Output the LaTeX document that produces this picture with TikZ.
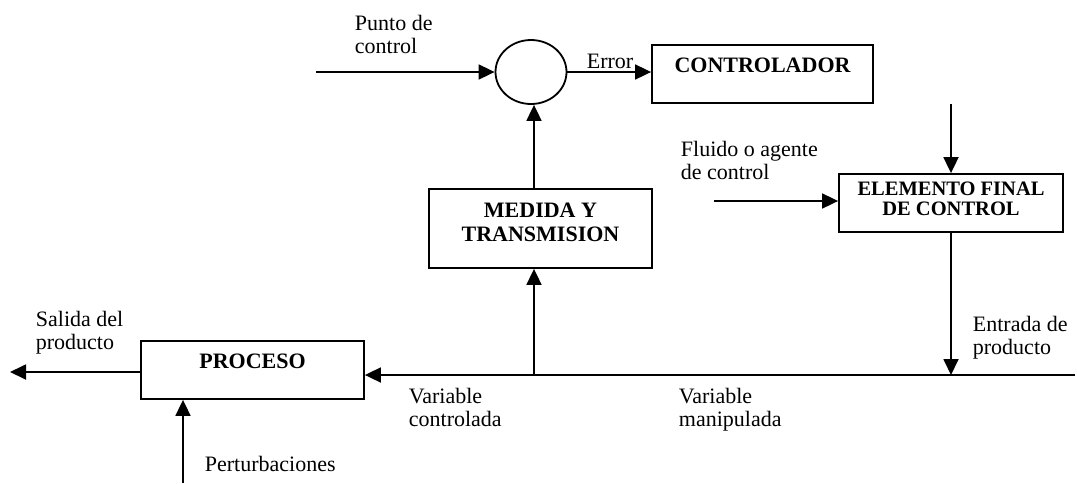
\documentclass[tikz,border=0pt]{standalone}
\usepackage{fontspec}
\setmainfont{Liberation Serif}
\usetikzlibrary{arrows.meta,shapes.geometric}
\begin{document}
\begin{tikzpicture}[x=1pt,y=-1pt,
  line width=1.8pt,
  flow/.style={-{Triangle[length=16pt,width=15pt]}},
  block/.style={draw, rectangle, inner sep=0pt, minimum height=58pt},
  lbl/.style={font=\fontsize{22}{23}\selectfont, align=left, inner sep=0pt, anchor=base west},
  ttl/.style={font=\fontsize{22}{24}\selectfont\bfseries, align=center, inner sep=0pt},
  ttls/.style={font=\fontsize{20.5}{20.5}\selectfont\bfseries, align=center, inner sep=0pt},
]
\useasboundingbox (0,0) rectangle (1077,483);

% summing junction and blocks
\node[draw, ellipse, minimum width=71pt, minimum height=64pt, inner sep=0pt] (sum) at (531,72) {};
\node[block, minimum width=221pt,
      label={[ttl, yshift=8.5pt]center:CONTROLADOR}] (ctrl) at (762.5,74) {};
\node[block, minimum width=224pt,
      label={[ttls, yshift=4pt]center:{ELEMENTO FINAL\\DE CONTROL}}] (elem) at (951,203) {};
\node[block, minimum width=223pt, minimum height=79pt,
      label={[ttl, yshift=6pt]center:{MEDIDA Y\\TRANSMISION}}] (meas) at (540.5,228.5) {};
\node[block, minimum width=223pt,
      label={[ttl, yshift=9pt]center:PROCESO}] (proc) at (252.5,370) {};

% free ends of the signal lines
\coordinate (setp) at (316,72);
\coordinate (fluid) at (714,201);
\coordinate (tap) at (534,375);
\coordinate (inlet) at (951,375);
\coordinate (feed) at (1075,375);
\coordinate (out) at (10,372);
\coordinate (dist) at (183,483);

% connectors
\draw[flow] (setp) -- (sum.west);
\draw[flow] (sum.east) -- (sum.east -| ctrl.west);
\draw[flow] (elem.north |- ctrl.south) -- (elem.north);
\draw[flow] (fluid) -- (fluid -| elem.west);
\draw[flow] (elem.south) -- (inlet);
\draw[flow] (feed) -- (feed -| proc.east);
\draw[flow] (tap) -- (tap |- meas.south);
\draw[flow] (tap |- meas.north) -- (tap |- sum.south);
\draw[flow] (out -| proc.west) -- (out);
\draw[flow] (dist) -- (dist |- proc.south);

% labels (anchored at the baseline of the last line)
\node[lbl] (lsetp) at (354,53) {Punto de\\control};
\node[lbl] (lerr) at (586,68) {Error};
\node[lbl] (lfluid) at (680,179) {Fluido o agente\\de control};
\node[lbl] (lout) at (35,349) {Salida del\\producto};
\node[lbl] (lcv) at (408,426) {Variable\\controlada};
\node[lbl] (lmv) at (678,426) {Variable\\manipulada};
\node[lbl] (lin) at (972,354) {Entrada de\\producto};
\node[lbl] (ldist) at (204,471) {Perturbaciones};
\end{tikzpicture}
\end{document}
